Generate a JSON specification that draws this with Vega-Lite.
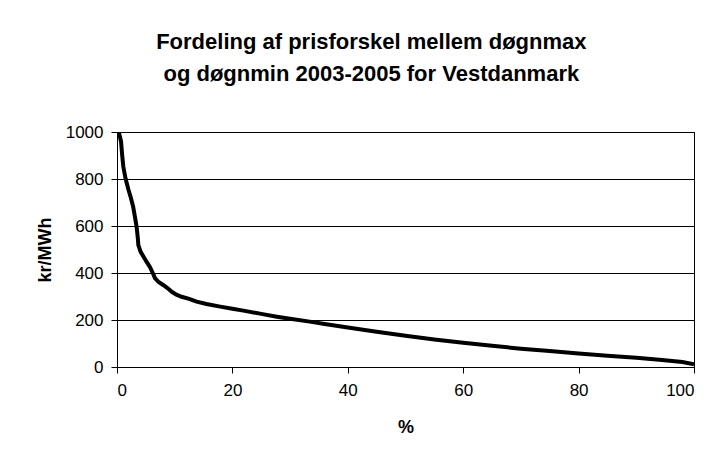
{
  "$schema": "https://vega.github.io/schema/vega-lite/v6.json",
  "width": 577,
  "height": 235,
  "autosize": {"type": "none"},
  "padding": {"left": 117, "top": 132, "right": 22, "bottom": 88},
  "background": "white",
  "title": {
    "text": ["Fordeling af prisforskel mellem døgnmax", "og døgnmin 2003-2005 for Vestdanmark"],
    "font": "Liberation Sans",
    "fontSize": 22,
    "fontWeight": "bold",
    "color": "black",
    "anchor": "middle",
    "frame": "bounds",
    "lineHeight": 32,
    "offset": 37,
    "dx": 6
  },
  "config": {
    "view": {"stroke": "black", "strokeWidth": 1},
    "axis": {
      "labelFont": "Liberation Sans",
      "labelFontSize": 17,
      "labelColor": "black",
      "titleFont": "Liberation Sans",
      "titleFontSize": 18,
      "titleFontWeight": "bold",
      "titleColor": "black",
      "domainColor": "black",
      "domainWidth": 1,
      "tickColor": "black",
      "tickSize": 6,
      "gridColor": "black",
      "gridWidth": 1,
      "gridOpacity": 1
    }
  },
  "data": {
    "values": [
      {"pct": 0, "val": 1000},
      {"pct": 0.3, "val": 1000},
      {"pct": 0.7, "val": 960},
      {"pct": 0.9, "val": 900},
      {"pct": 1.1, "val": 852},
      {"pct": 1.5, "val": 800},
      {"pct": 2.0, "val": 753},
      {"pct": 2.4, "val": 720},
      {"pct": 2.8, "val": 682},
      {"pct": 3.1, "val": 640},
      {"pct": 3.4, "val": 597},
      {"pct": 3.6, "val": 550},
      {"pct": 3.7, "val": 519},
      {"pct": 4.1, "val": 490},
      {"pct": 4.6, "val": 469},
      {"pct": 5.2, "val": 445},
      {"pct": 5.7, "val": 426},
      {"pct": 6.2, "val": 400},
      {"pct": 6.6, "val": 377},
      {"pct": 7.2, "val": 362},
      {"pct": 8.0, "val": 349},
      {"pct": 8.8, "val": 335},
      {"pct": 9.5, "val": 320},
      {"pct": 10.3, "val": 308},
      {"pct": 11.2, "val": 299},
      {"pct": 12.5, "val": 290},
      {"pct": 13.8, "val": 278},
      {"pct": 15.5, "val": 268},
      {"pct": 17.9, "val": 257},
      {"pct": 20, "val": 248},
      {"pct": 21.9, "val": 240},
      {"pct": 25, "val": 226},
      {"pct": 27.7, "val": 214},
      {"pct": 30, "val": 205},
      {"pct": 33.4, "val": 193},
      {"pct": 36, "val": 183},
      {"pct": 40, "val": 168},
      {"pct": 45, "val": 150},
      {"pct": 50, "val": 133},
      {"pct": 55, "val": 117},
      {"pct": 60, "val": 103},
      {"pct": 65, "val": 90},
      {"pct": 70, "val": 78},
      {"pct": 75, "val": 68},
      {"pct": 80, "val": 57},
      {"pct": 85, "val": 48},
      {"pct": 90, "val": 39},
      {"pct": 94, "val": 31},
      {"pct": 98, "val": 21},
      {"pct": 100, "val": 12}
    ]
  },
  "mark": {"type": "line", "color": "black", "strokeWidth": 4, "clip": true},
  "encoding": {
    "x": {
      "field": "pct",
      "type": "quantitative",
      "scale": {"domain": [0, 100], "nice": false},
      "axis": {"title": "%", "values": [0, 20, 40, 60, 80, 100], "grid": false, "labelPadding": 9, "titlePadding": 20}
    },
    "y": {
      "field": "val",
      "type": "quantitative",
      "scale": {"domain": [0, 1000], "nice": false},
      "axis": {"title": "kr/MWh", "values": [0, 200, 400, 600, 800, 1000], "format": "d", "grid": true, "labelPadding": 8, "titlePadding": 11}
    }
  }
}
